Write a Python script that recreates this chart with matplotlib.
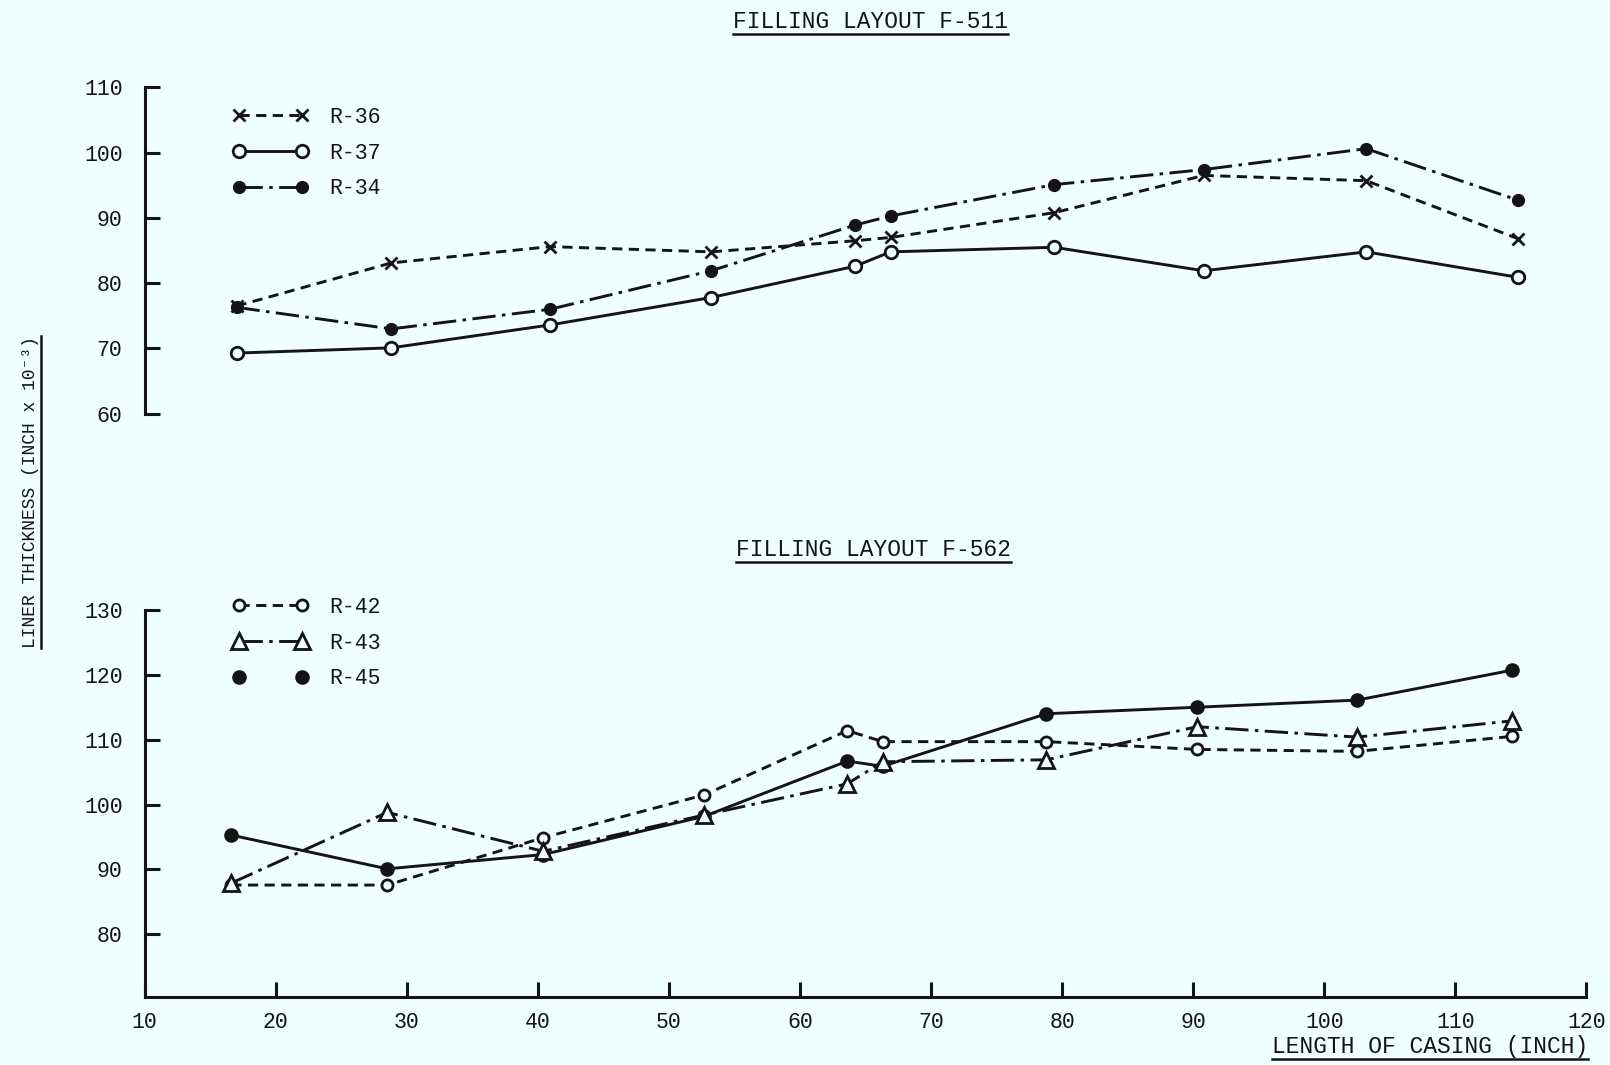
import matplotlib
matplotlib.use('Agg')
import matplotlib.pyplot as plt
from matplotlib.lines import Line2D

# ---------------- data ----------------
x_top = [17.0, 28.8, 40.9, 53.2, 64.2, 66.9, 79.4, 90.8, 103.2, 114.8]
r36 = [76.5, 83.1, 85.6, 84.8, 86.5, 87.0, 90.8, 96.5, 95.7, 86.8]
r37 = [69.3, 70.1, 73.6, 77.8, 82.6, 84.8, 85.5, 81.9, 84.8, 80.9]
r34 = [76.3, 73.0, 76.0, 81.9, 88.9, 90.3, 95.1, 97.4, 100.6, 92.7]

x_bot = [16.6, 28.5, 40.4, 52.7, 63.6, 66.3, 78.8, 90.3, 102.5, 114.3]
r42 = [87.6, 87.6, 94.9, 101.5, 111.4, 109.7, 109.7, 108.5, 108.2, 110.5]
r43 = [87.9, 98.8, 92.8, 98.4, 103.2, 106.6, 106.9, 112.0, 110.4, 112.9]
r45 = [95.3, 90.1, 92.3, 98.2, 106.7, 105.9, 114.0, 115.0, 116.1, 120.7]

top_yticks = [60, 70, 80, 90, 100, 110]
bot_yticks = [80, 90, 100, 110, 120, 130]
xticks = [10, 20, 30, 40, 50, 60, 70, 80, 90, 100, 110, 120]

title_top = 'FILLING LAYOUT F-511'
title_bot = 'FILLING LAYOUT F-562'
xlabel = 'LENGTH OF CASING (INCH)'
ylabel = 'LINER THICKNESS (INCH x 10\u207b\u00b3)'

# ---------------- style ----------------
BG = '#effefe'
INK = '#141414'
MONO = ['Liberation Mono', 'DejaVu Sans Mono']
LW = 2.1
DASH = (0, (3.5, 2.2))
DASHDOT = (0, (8, 2.2, 1.2, 2.2))

plt.rcParams['font.family'] = MONO
plt.rcParams['text.color'] = INK

fig = plt.figure(figsize=(16.1, 10.65), dpi=100, facecolor=BG)
W, H = 1610.0, 1065.0

left = 144.8 / W
width = (1586.4 - 144.8) / W
ax1 = fig.add_axes([left, 1 - 413.8 / H, width, (413.8 - 87.3) / H])
ax2 = fig.add_axes([left, 1 - 997.0 / H, width, (997.0 - 609.9) / H])

for ax in (ax1, ax2):
    ax.set_facecolor('none')
    ax.set_xlim(10, 120)
    for s in ('top', 'right'):
        ax.spines[s].set_visible(False)
    for s in ('left', 'bottom'):
        ax.spines[s].set_linewidth(2.2)
        ax.spines[s].set_color(INK)
    ax.tick_params(direction='in', length=11, width=2.2, color=INK,
                   labelsize=15.5, labelcolor=INK)
    ax.tick_params(axis='y', pad=16)
    ax.tick_params(axis='x', pad=11)

ax1.set_ylim(60, 110)
ax1.set_yticks(top_yticks)
ax1.spines['bottom'].set_visible(False)
ax1.set_xticks([])

ax2.set_ylim(70.35, 130)
ax2.set_yticks(bot_yticks)
ax2.set_xticks(xticks)

mfc_open = BG
# top panel
l36, = ax1.plot(x_top, r36, linestyle=DASH, color=INK, lw=LW, marker='x',
                ms=8, mew=2.0)
l37, = ax1.plot(x_top, r37, linestyle='-', color=INK, lw=LW, marker='o',
                ms=9, mew=2.0, mfc=mfc_open, mec=INK)
l34, = ax1.plot(x_top, r34, linestyle=DASHDOT, color=INK, lw=LW, marker='o',
                ms=8.5, mfc=INK, mec=INK)

# bottom panel
l42, = ax2.plot(x_bot, r42, linestyle=DASH, color=INK, lw=LW, marker='o',
                ms=8, mew=2.0, mfc=mfc_open, mec=INK)
l45, = ax2.plot(x_bot, r45, linestyle='-', color=INK, lw=LW, marker='o',
                ms=9.5, mfc=INK, mec=INK)
l43, = ax2.plot(x_bot, r43, linestyle=DASHDOT, color=INK, lw=LW, marker='^',
                ms=12, mew=2.0, mfc=mfc_open, mec=INK)

# legends
leg_kw = dict(numpoints=2, frameon=False, loc='upper left',
              bbox_transform=fig.transFigure, handlelength=3.5,
              handletextpad=0.95, labelspacing=0.68, borderpad=0,
              borderaxespad=0, prop={'family': MONO, 'size': 15.5})
h36 = Line2D([], [], linestyle=DASH, color=INK, lw=LW, marker='x', ms=8, mew=2.0)
h37 = Line2D([], [], linestyle='-', color=INK, lw=LW, marker='o', ms=9, mew=2.0,
             mfc=mfc_open, mec=INK)
h34 = Line2D([], [], linestyle=DASHDOT, color=INK, lw=LW, marker='o', ms=8.5,
             mfc=INK, mec=INK)
ax1.legend([h36, h37, h34], ['R-36', 'R-37', 'R-34'],
           bbox_to_anchor=(233 / W, 1 - 107 / H), **leg_kw)

h42 = Line2D([], [], linestyle=DASH, color=INK, lw=LW, marker='o', ms=8, mew=2.0,
             mfc=mfc_open, mec=INK)
h43 = Line2D([], [], linestyle=DASHDOT, color=INK, lw=LW, marker='^', ms=12,
             mew=2.0, mfc=mfc_open, mec=INK)
h45 = Line2D([], [], linestyle='none', color=INK, marker='o', ms=9.5,
             mfc=INK, mec=INK)
ax2.legend([h42, h43, h45], ['R-42', 'R-43', 'R-45'],
           bbox_to_anchor=(233 / W, 1 - 597 / H), **leg_kw)

# texts
t1 = fig.text(870 / W, 1 - 21 / H, title_top, ha='center', va='center',
              fontsize=16.5, family=MONO)
t2 = fig.text(873 / W, 1 - 549 / H, title_bot, ha='center', va='center',
              fontsize=16.5, family=MONO)
t3 = fig.text(1588 / W, 1 - 1046 / H, xlabel, ha='right', va='center',
              fontsize=16.5, family=MONO)
t4 = fig.text(31 / W, 1 - 492 / H, ylabel, ha='center', va='center',
              rotation=90, fontsize=13, family=MONO)

fig.canvas.draw()
r = fig.canvas.get_renderer()


def underline(t, off, vertical=False):
    bb = t.get_window_extent(r)
    if vertical:
        x = bb.x1 + off
        fig.add_artist(Line2D([x / W, x / W], [bb.y0 / H, bb.y1 / H],
                              color=INK, lw=1.8, transform=fig.transFigure))
    else:
        y = bb.y0 - off
        fig.add_artist(Line2D([bb.x0 / W, bb.x1 / W], [y / H, y / H],
                              color=INK, lw=1.8, transform=fig.transFigure))


underline(t1, 1)
underline(t2, 1)
underline(t3, 1)
underline(t4, 1, vertical=True)

fig.savefig('out.png', dpi=100, facecolor=BG)
